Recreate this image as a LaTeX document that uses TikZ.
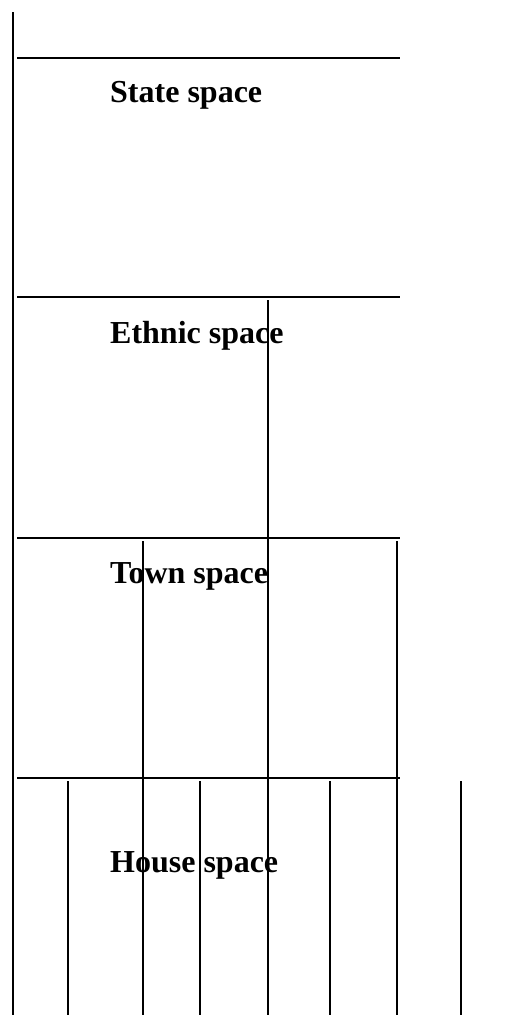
\documentclass[tikz,border=0pt]{standalone}
\usepackage{fontspec}
\setmainfont{Liberation Serif}
\begin{document}
\begin{tikzpicture}[
    x=1pt, y=-1pt,
    level/.style={line width=2.6pt},
    wall/.style={line width=2.6pt},
    title/.style={anchor=base west, inner sep=0pt, font=\fontsize{32}{38}\selectfont\bfseries}
]
\useasboundingbox (0,0) rectangle (514,1015);
% levels
\draw[wall] (13,12) -- (13,1015);
\foreach \y in {58,297,538,778}
    \draw[level] (17,\y) -- (400,\y);
\node[title] (state)  at (110,102) {State space};
\node[title] (ethnic) at (110,343) {Ethnic space};
\node[title] (town)   at (110,583) {Town space};
\node[title] (house)  at (110,872) {House space};
% divisions
\draw[wall] (268,300) -- (268,1015);
\foreach \x in {143,397}
    \draw[wall] (\x,541) -- (\x,1015);
\foreach \x in {68,200,330,461}
    \draw[wall] (\x,781) -- (\x,1015);
\end{tikzpicture}
\end{document}
